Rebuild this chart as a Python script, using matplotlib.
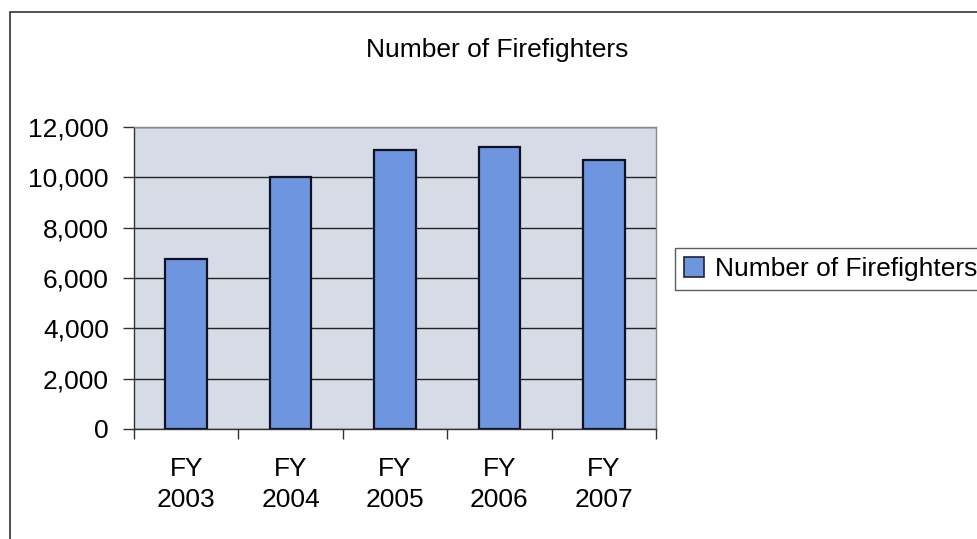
import matplotlib
matplotlib.use("Agg")
import matplotlib.pyplot as plt
from matplotlib.patches import Rectangle, Patch
from matplotlib.ticker import FuncFormatter, MultipleLocator, FixedLocator

plt.rcParams['font.family'] = ['Liberation Sans', 'DejaVu Sans']

categories = ["FY\n2003", "FY\n2004", "FY\n2005", "FY\n2006", "FY\n2007"]
firefighters = [6750, 10000, 11100, 11200, 10700]
series_name = "Number of Firefighters"
title = "Number of Firefighters"

FS = 19

fig = plt.figure(figsize=(9.78, 5.39), dpi=100)
fig.patch.set_facecolor("white")

# outer chart border
fig.patches.append(Rectangle((10/978, -0.05), 1.2, (539-12)/539 + 0.05,
                             transform=fig.transFigure, fill=False,
                             edgecolor="#333333", linewidth=1.2, zorder=0))

ax = fig.add_axes([134/978, 1-429/539, (656-134)/978, (429-127)/539])
ax.set_facecolor("#D6DCE6")

x = list(range(len(categories)))
ax.bar(x, firefighters, width=0.4, color="#6E96E0", edgecolor="#111122",
       linewidth=1.6, zorder=3, label=series_name)

ax.set_xlim(-0.5, len(categories) - 0.5)
ax.set_ylim(0, 12000)
ax.yaxis.set_major_locator(MultipleLocator(2000))
ax.yaxis.set_major_formatter(FuncFormatter(lambda v, p: f"{int(v):,}"))
ax.grid(axis="y", color="#222222", linewidth=1.0, zorder=1)

ax.set_xticks(x)
ax.set_xticklabels(categories, fontsize=FS, linespacing=1.4)
ax.xaxis.set_minor_locator(FixedLocator([i - 0.5 for i in range(len(categories) + 1)]))
ax.tick_params(axis="x", which="major", length=0, pad=20)
ax.tick_params(axis="x", which="minor", length=7, width=1.0, color="#333333", direction="out")
ax.tick_params(axis="y", length=8, width=1.0, color="#333333", direction="out",
               labelsize=FS, pad=10)

for s in ["top", "right"]:
    ax.spines[s].set_color("#888888")
    ax.spines[s].set_linewidth(1.0)
for s in ["left", "bottom"]:
    ax.spines[s].set_color("#333333")
    ax.spines[s].set_linewidth(1.0)

fig.text(497/978, 1-50/539, title, ha="center", va="center", fontsize=FS)

handle = Patch(facecolor="#6E96E0", edgecolor="#222233", linewidth=1.2)
leg = fig.legend([handle], [series_name], loc="upper left",
                 bbox_to_anchor=(675/978, 1-248/539), fontsize=FS,
                 frameon=True, fancybox=False, edgecolor="#333333",
                 handlelength=0.75, handleheight=0.75, handletextpad=0.4,
                 borderpad=0.35, borderaxespad=0)
leg.get_frame().set_linewidth(1.0)

fig.savefig("out.png", dpi=100, facecolor="white")
